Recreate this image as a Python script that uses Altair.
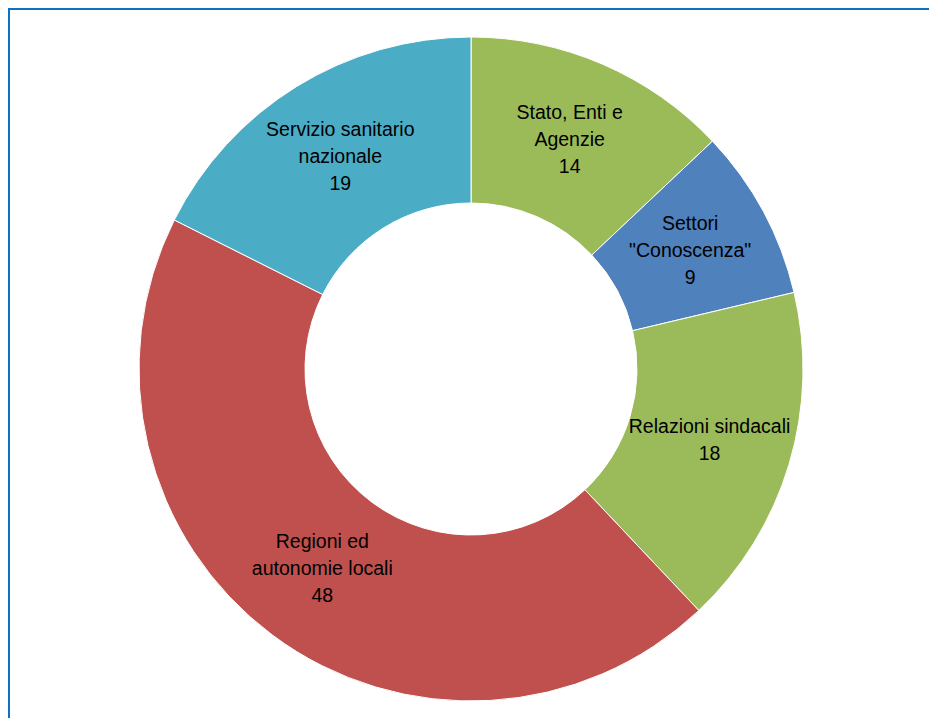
import altair as alt
import pandas as pd

categories = ["Stato, Enti e\nAgenzie", "Settori\n\"Conoscenza\"", "Relazioni sindacali",
              "Regioni ed\nautonomie locali", "Servizio sanitario\nnazionale"]
values = [14, 9, 18, 48, 19]
colors = ["#9BBB59", "#4F81BD", "#9BBB5A", "#C0504D", "#4BACC6"]

df = pd.DataFrame({
    "cat": categories,
    "value": values,
    "order": list(range(len(values))),
})
df["label"] = df["cat"] + "\n" + df["value"].astype(str)
df["nlines"] = df["label"].str.count("\n") + 1

CX, CY = 463, 361
LH = 27
W, H = 921, 710

base = alt.Chart(df).encode(
    theta=alt.Theta("value:Q", stack=True),
    order=alt.Order("order:Q"),
    x=alt.value(CX),
    y=alt.value(CY),
)

arcs = base.mark_arc(outerRadius=332, innerRadius=166, stroke="white", strokeWidth=1).encode(
    color=alt.Color("cat:N", scale=alt.Scale(domain=categories, range=colors), legend=None)
)

text_style = dict(radius=249, fontSize=19.5, font="Liberation Sans", color="black",
                  lineBreak="\n", baseline="middle", align="center", lineHeight=LH)

labels3 = base.mark_text(dy=-LH, **text_style).transform_calculate(
    t="datum.nlines == 3 ? datum.label : ''"
).encode(text="t:N")

labels2 = base.mark_text(dy=-LH / 2, **text_style).transform_calculate(
    t="datum.nlines == 2 ? datum.label : ''"
).encode(text="t:N")

frame_color = "#0E70C0"
one = pd.DataFrame({"a": [0]})
top_bar = alt.Chart(one).mark_rect(fill=frame_color, strokeWidth=0).encode(
    x=alt.value(0), x2=alt.value(W), y=alt.value(0), y2=alt.value(2)
)
left_bar = alt.Chart(one).mark_rect(fill=frame_color, strokeWidth=0).encode(
    x=alt.value(0), x2=alt.value(2), y=alt.value(0), y2=alt.value(H)
)

chart = alt.layer(top_bar, left_bar, arcs, labels3, labels2).properties(
    width=W, height=H,
    padding=0,
    autosize=alt.AutoSizeParams(type="none")
).configure_view(stroke=None)

chart.save("out.html", embed_options={"renderer": "svg", "actions": False})
